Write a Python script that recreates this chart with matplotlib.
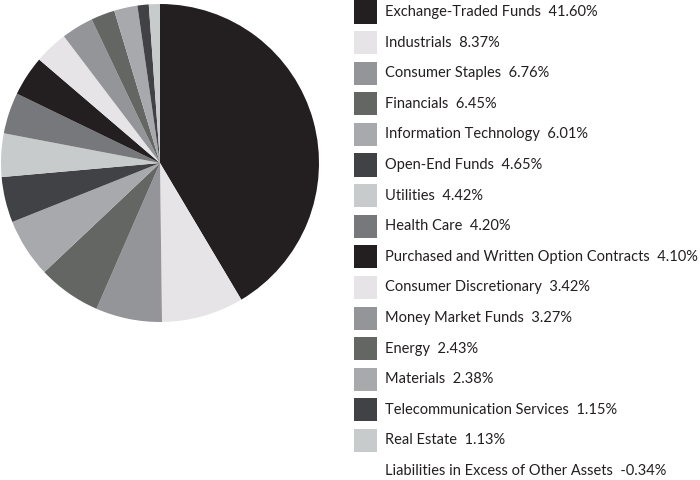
import matplotlib
matplotlib.use("Agg")
import matplotlib.pyplot as plt
from matplotlib.patches import Rectangle

categories = ["Exchange-Traded Funds", "Industrials", "Consumer Staples", "Financials",
              "Information Technology", "Open-End Funds", "Utilities", "Health Care",
              "Purchased and Written Option Contracts", "Consumer Discretionary",
              "Money Market Funds", "Energy", "Materials", "Telecommunication Services",
              "Real Estate", "Liabilities in Excess of Other Assets"]
values = [41.60, 8.37, 6.76, 6.45, 6.01, 4.65, 4.42, 4.20, 4.10, 3.42, 3.27, 2.43,
          2.38, 1.15, 1.13, -0.34]
palette = ["#231f20", "#e6e4e6", "#939598", "#636663", "#a8a9ad", "#404245",
           "#c8cbcc", "#77787b"]
colors = [palette[i % len(palette)] for i in range(len(values))]

plt.rcParams['font.family'] = ['Lato', 'DejaVu Sans']

W, H = 700, 480
fig = plt.figure(figsize=(7, 4.8), dpi=100)

# pie (only the positive slices are drawn)
pos = [(v, c) for v, c in zip(values, colors) if v > 0]
ax = fig.add_axes([1 / W, (H - 322) / H, 318 / W, 318 / H])
ax.pie([v for v, c in pos], colors=[c for v, c in pos], startangle=90,
       counterclock=False, wedgeprops=dict(linewidth=0))
ax.set_aspect("equal")
ax.set_xlim(-1, 1)
ax.set_ylim(-1, 1)

# legend
y0, dy = 12, 30.6
for i, (name, v, c) in enumerate(zip(categories, values, colors)):
    yc = y0 + i * dy
    if v > 0:
        fig.patches.append(Rectangle((354 / W, (H - yc - 11.5) / H), 23 / W, 23 / H,
                                     transform=fig.transFigure, facecolor=c,
                                     edgecolor="none"))
    fig.text(385 / W, (H - yc) / H, f"{name}  {v:.2f}%", fontsize=10.5,
             color="#231f20", va="center", ha="left")

fig.savefig("out.png", dpi=100, facecolor="white")
